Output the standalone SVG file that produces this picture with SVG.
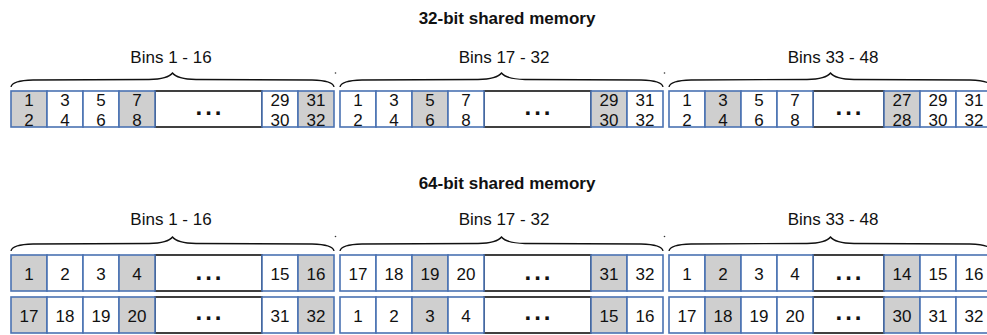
<svg xmlns="http://www.w3.org/2000/svg" xmlns:xlink="http://www.w3.org/1999/xlink" width="987" height="335" viewBox="0 0 987 335">
  <style>
    .cell { fill: #ffffff; stroke: #4a72b2; stroke-width: 1.6; }
    .shade { fill: #cfcfcf; }
    .gap { fill: #ffffff; stroke: #111111; stroke-width: 1.6; }
    text { font-family: "Liberation Sans", Arial, sans-serif; fill: #111111; }
    .num { font-size: 17px; text-anchor: middle; }
    .lbl { font-size: 17px; text-anchor: middle; }
    .title { font-size: 17px; font-weight: bold; text-anchor: middle; }
    .dots { font-size: 24px; font-weight: bold; text-anchor: middle; letter-spacing: 3px; }
    .brace { fill: none; stroke: #111111; stroke-width: 1.3; }
    .tick { fill: #333333; }
  </style>
  <defs>
    <!-- curly brace spanning one 323px bank group, tip at top centre -->
    <path id="brace" d="M0,14 Q1,7.5 22,7 L138,6.5 Q157,6 161.5,0 Q166,6 185,6.5 L301,7 Q322,7.5 323,14"/>
  </defs>

  <rect width="987" height="335" fill="#ffffff"/>

  <!-- headings -->
  <text class="title" x="507" y="24">32-bit shared memory</text>
  <text class="title" x="507" y="189">64-bit shared memory</text>

  <text class="lbl" x="171" y="63">Bins 1 - 16</text>
  <text class="lbl" x="504" y="63">Bins 17 - 32</text>
  <text class="lbl" x="833" y="63">Bins 33 - 48</text>
  <text class="lbl" x="171" y="225">Bins 1 - 16</text>
  <text class="lbl" x="504" y="225">Bins 17 - 32</text>
  <text class="lbl" x="833" y="225">Bins 33 - 48</text>

  <!-- braces over each bin group -->
  <g id="connectors">
    <use href="#brace" xlink:href="#brace" class="brace" transform="translate(11,73)"/>
    <use href="#brace" xlink:href="#brace" class="brace" transform="translate(340,73)"/>
    <use href="#brace" xlink:href="#brace" class="brace" transform="translate(669,73)"/>
    <use href="#brace" xlink:href="#brace" class="brace" transform="translate(11,237)"/>
    <use href="#brace" xlink:href="#brace" class="brace" transform="translate(340,237)"/>
    <use href="#brace" xlink:href="#brace" class="brace" transform="translate(669,237)"/>
    <circle class="tick" cx="335.5" cy="73" r="0.8"/>
    <circle class="tick" cx="664.5" cy="73" r="0.8"/>
    <circle class="tick" cx="335.5" cy="236.5" r="0.8"/>
    <circle class="tick" cx="664.5" cy="236.5" r="0.8"/>
  </g>

  <!-- 32-bit: group 1 -->
  <g id="b32-g1">
    <rect class="gap" x="155" y="91" width="107" height="36"/>
    <rect class="cell shade" x="11" y="91" width="36" height="36"/>
    <rect class="cell" x="47" y="91" width="36" height="36"/>
    <rect class="cell" x="83" y="91" width="36" height="36"/>
    <rect class="cell shade" x="119" y="91" width="36" height="36"/>
    <rect class="cell" x="262" y="91" width="36" height="36"/>
    <rect class="cell shade" x="298" y="91" width="36" height="36"/>
    <text class="num" x="29" y="105.5">1</text><text class="num" x="29" y="126">2</text>
    <text class="num" x="65" y="105.5">3</text><text class="num" x="65" y="126">4</text>
    <text class="num" x="101" y="105.5">5</text><text class="num" x="101" y="126">6</text>
    <text class="num" x="137" y="105.5">7</text><text class="num" x="137" y="126">8</text>
    <text class="dots" x="210" y="115">...</text>
    <text class="num" x="280" y="105.5">29</text><text class="num" x="280" y="126">30</text>
    <text class="num" x="316" y="105.5">31</text><text class="num" x="316" y="126">32</text>
  </g>

  <!-- 32-bit: group 2 -->
  <g id="b32-g2">
    <rect class="gap" x="484" y="91" width="107" height="36"/>
    <rect class="cell" x="340" y="91" width="36" height="36"/>
    <rect class="cell" x="376" y="91" width="36" height="36"/>
    <rect class="cell shade" x="412" y="91" width="36" height="36"/>
    <rect class="cell" x="448" y="91" width="36" height="36"/>
    <rect class="cell shade" x="591" y="91" width="36" height="36"/>
    <rect class="cell" x="627" y="91" width="36" height="36"/>
    <text class="num" x="358" y="105.5">1</text><text class="num" x="358" y="126">2</text>
    <text class="num" x="394" y="105.5">3</text><text class="num" x="394" y="126">4</text>
    <text class="num" x="430" y="105.5">5</text><text class="num" x="430" y="126">6</text>
    <text class="num" x="466" y="105.5">7</text><text class="num" x="466" y="126">8</text>
    <text class="dots" x="539" y="115">...</text>
    <text class="num" x="609" y="105.5">29</text><text class="num" x="609" y="126">30</text>
    <text class="num" x="645" y="105.5">31</text><text class="num" x="645" y="126">32</text>
  </g>

  <!-- 32-bit: group 3 -->
  <g id="b32-g3">
    <rect class="gap" x="813" y="91" width="71" height="36"/>
    <rect class="cell" x="669" y="91" width="36" height="36"/>
    <rect class="cell shade" x="705" y="91" width="36" height="36"/>
    <rect class="cell" x="741" y="91" width="36" height="36"/>
    <rect class="cell" x="777" y="91" width="36" height="36"/>
    <rect class="cell shade" x="884" y="91" width="36" height="36"/>
    <rect class="cell" x="920" y="91" width="36" height="36"/>
    <rect class="cell" x="956" y="91" width="36" height="36"/>
    <text class="num" x="687" y="105.5">1</text><text class="num" x="687" y="126">2</text>
    <text class="num" x="723" y="105.5">3</text><text class="num" x="723" y="126">4</text>
    <text class="num" x="759" y="105.5">5</text><text class="num" x="759" y="126">6</text>
    <text class="num" x="795" y="105.5">7</text><text class="num" x="795" y="126">8</text>
    <text class="dots" x="850" y="115">...</text>
    <text class="num" x="902" y="105.5">27</text><text class="num" x="902" y="126">28</text>
    <text class="num" x="938" y="105.5">29</text><text class="num" x="938" y="126">30</text>
    <text class="num" x="974" y="105.5">31</text><text class="num" x="974" y="126">32</text>
  </g>

  <!-- 64-bit: group 1 -->
  <g id="b64-g1">
    <rect class="gap" x="155" y="255" width="107" height="36"/>
    <rect class="cell shade" x="11" y="255" width="36" height="36"/>
    <rect class="cell" x="47" y="255" width="36" height="36"/>
    <rect class="cell" x="83" y="255" width="36" height="36"/>
    <rect class="cell shade" x="119" y="255" width="36" height="36"/>
    <rect class="cell" x="262" y="255" width="36" height="36"/>
    <rect class="cell shade" x="298" y="255" width="36" height="36"/>
    <text class="num" x="29" y="279.5">1</text>
    <text class="num" x="65" y="279.5">2</text>
    <text class="num" x="101" y="279.5">3</text>
    <text class="num" x="137" y="279.5">4</text>
    <text class="dots" x="210" y="279.5">...</text>
    <text class="num" x="280" y="279.5">15</text>
    <text class="num" x="316" y="279.5">16</text>

    <rect class="gap" x="155" y="297" width="107" height="36"/>
    <rect class="cell shade" x="11" y="297" width="36" height="36"/>
    <rect class="cell" x="47" y="297" width="36" height="36"/>
    <rect class="cell" x="83" y="297" width="36" height="36"/>
    <rect class="cell shade" x="119" y="297" width="36" height="36"/>
    <rect class="cell" x="262" y="297" width="36" height="36"/>
    <rect class="cell shade" x="298" y="297" width="36" height="36"/>
    <text class="num" x="29" y="321.5">17</text>
    <text class="num" x="65" y="321.5">18</text>
    <text class="num" x="101" y="321.5">19</text>
    <text class="num" x="137" y="321.5">20</text>
    <text class="dots" x="210" y="320">...</text>
    <text class="num" x="280" y="321.5">31</text>
    <text class="num" x="316" y="321.5">32</text>
  </g>

  <!-- 64-bit: group 2 -->
  <g id="b64-g2">
    <rect class="gap" x="484" y="255" width="107" height="36"/>
    <rect class="cell" x="340" y="255" width="36" height="36"/>
    <rect class="cell" x="376" y="255" width="36" height="36"/>
    <rect class="cell shade" x="412" y="255" width="36" height="36"/>
    <rect class="cell" x="448" y="255" width="36" height="36"/>
    <rect class="cell shade" x="591" y="255" width="36" height="36"/>
    <rect class="cell" x="627" y="255" width="36" height="36"/>
    <text class="num" x="358" y="279.5">17</text>
    <text class="num" x="394" y="279.5">18</text>
    <text class="num" x="430" y="279.5">19</text>
    <text class="num" x="466" y="279.5">20</text>
    <text class="dots" x="539" y="279.5">...</text>
    <text class="num" x="609" y="279.5">31</text>
    <text class="num" x="645" y="279.5">32</text>

    <rect class="gap" x="484" y="297" width="107" height="36"/>
    <rect class="cell" x="340" y="297" width="36" height="36"/>
    <rect class="cell" x="376" y="297" width="36" height="36"/>
    <rect class="cell shade" x="412" y="297" width="36" height="36"/>
    <rect class="cell" x="448" y="297" width="36" height="36"/>
    <rect class="cell shade" x="591" y="297" width="36" height="36"/>
    <rect class="cell" x="627" y="297" width="36" height="36"/>
    <text class="num" x="358" y="321.5">1</text>
    <text class="num" x="394" y="321.5">2</text>
    <text class="num" x="430" y="321.5">3</text>
    <text class="num" x="466" y="321.5">4</text>
    <text class="dots" x="539" y="320">...</text>
    <text class="num" x="609" y="321.5">15</text>
    <text class="num" x="645" y="321.5">16</text>
  </g>

  <!-- 64-bit: group 3 -->
  <g id="b64-g3">
    <rect class="gap" x="813" y="255" width="71" height="36"/>
    <rect class="cell" x="669" y="255" width="36" height="36"/>
    <rect class="cell shade" x="705" y="255" width="36" height="36"/>
    <rect class="cell" x="741" y="255" width="36" height="36"/>
    <rect class="cell" x="777" y="255" width="36" height="36"/>
    <rect class="cell shade" x="884" y="255" width="36" height="36"/>
    <rect class="cell" x="920" y="255" width="36" height="36"/>
    <rect class="cell" x="956" y="255" width="36" height="36"/>
    <text class="num" x="687" y="279.5">1</text>
    <text class="num" x="723" y="279.5">2</text>
    <text class="num" x="759" y="279.5">3</text>
    <text class="num" x="795" y="279.5">4</text>
    <text class="dots" x="850" y="279.5">...</text>
    <text class="num" x="902" y="279.5">14</text>
    <text class="num" x="938" y="279.5">15</text>
    <text class="num" x="974" y="279.5">16</text>

    <rect class="gap" x="813" y="297" width="71" height="36"/>
    <rect class="cell" x="669" y="297" width="36" height="36"/>
    <rect class="cell shade" x="705" y="297" width="36" height="36"/>
    <rect class="cell" x="741" y="297" width="36" height="36"/>
    <rect class="cell" x="777" y="297" width="36" height="36"/>
    <rect class="cell shade" x="884" y="297" width="36" height="36"/>
    <rect class="cell" x="920" y="297" width="36" height="36"/>
    <rect class="cell" x="956" y="297" width="36" height="36"/>
    <text class="num" x="687" y="321.5">17</text>
    <text class="num" x="723" y="321.5">18</text>
    <text class="num" x="759" y="321.5">19</text>
    <text class="num" x="795" y="321.5">20</text>
    <text class="dots" x="850" y="320">...</text>
    <text class="num" x="902" y="321.5">30</text>
    <text class="num" x="938" y="321.5">31</text>
    <text class="num" x="974" y="321.5">32</text>
  </g>
</svg>
